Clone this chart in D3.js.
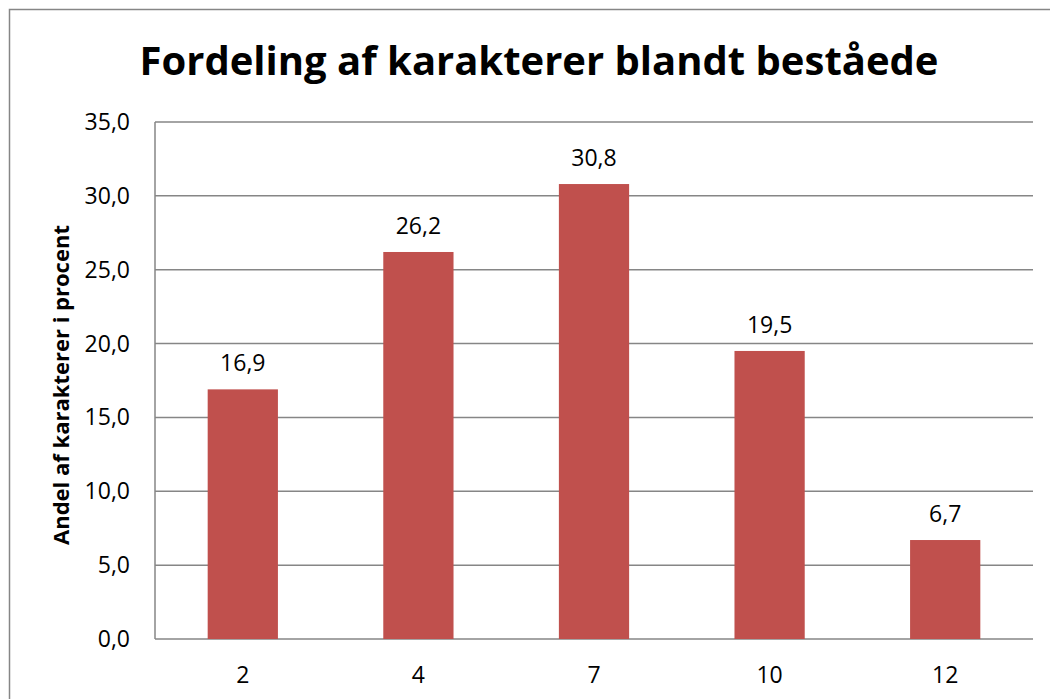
<!DOCTYPE html>
<html>
<head>
<meta charset="utf-8">
<script src="https://cdn.jsdelivr.net/npm/d3@7"></script>
<style>
    body { margin: 0; background: #fff; }
    text { font-family: "Open Sans", "Liberation Sans", sans-serif; fill: #000; }
</style>
</head>
<body>
<svg id="chart"></svg>
<script>
const categories = ["2", "4", "7", "10", "12"];
const values = [16.9, 26.2, 30.8, 19.5, 6.7];
const yTicks = [0, 5, 10, 15, 20, 25, 30, 35];
const title = "Fordeling af karakterer blandt beståede";
const yTitle = "Andel af karakterer i procent";

const width = 1050, height = 699;
const plot = { left: 155, top: 122, right: 1033, bottom: 639 };

const fmt = function(d) { return d.toFixed(1).replace(".", ","); };

const svg = d3.select("#chart").attr("width", width).attr("height", height);

// outer frame (runs off the right and bottom edge)
svg.append("rect")
    .attr("x", 9.5).attr("y", 9.5)
    .attr("width", 1100).attr("height", 750)
    .attr("fill", "none").attr("stroke", "#868686").attr("stroke-width", 1.5);

const x = d3.scaleBand().domain(categories).range([plot.left, plot.right]).padding(0);
const y = d3.scaleLinear().domain([0, 35]).range([plot.bottom, plot.top]);

// gridlines
svg.append("g").selectAll("line")
    .data(yTicks)
    .enter()
    .append("line")
    .attr("x1", plot.left).attr("x2", plot.right)
    .attr("y1", function(d) { return y(d); })
    .attr("y2", function(d) { return y(d); })
    .attr("stroke", "#868686").attr("stroke-width", 1.5);

// y axis line
svg.append("line")
    .attr("x1", plot.left).attr("x2", plot.left)
    .attr("y1", plot.top).attr("y2", plot.bottom)
    .attr("stroke", "#868686").attr("stroke-width", 1.5);

// y tick labels
svg.append("g").selectAll("text")
    .data(yTicks)
    .enter()
    .append("text")
    .attr("x", 130)
    .attr("y", function(d) { return y(d); })
    .attr("dy", "0.35em")
    .attr("text-anchor", "end")
    .style("font-size", "23px")
    .text(fmt);

// x tick labels
svg.append("g").selectAll("text")
    .data(categories)
    .enter()
    .append("text")
    .attr("x", function(d) { return x(d) + x.bandwidth() / 2; })
    .attr("y", 675)
    .attr("dy", "0.35em")
    .attr("text-anchor", "middle")
    .style("font-size", "23px")
    .text(function(d) { return d; });

// bars
const barW = x.bandwidth() * 0.4;
svg.append("g").selectAll("rect")
    .data(values)
    .enter()
    .append("rect")
    .attr("x", function(d, i) { return x(categories[i]) + (x.bandwidth() - barW) / 2; })
    .attr("y", function(d) { return y(d); })
    .attr("width", barW)
    .attr("height", function(d) { return y(0) - y(d); })
    .attr("fill", "#C0504D");

// data labels
svg.append("g").selectAll("text")
    .data(values)
    .enter()
    .append("text")
    .attr("x", function(d, i) { return x(categories[i]) + x.bandwidth() / 2; })
    .attr("y", function(d) { return y(d) - 26; })
    .attr("dy", "0.35em")
    .attr("text-anchor", "middle")
    .style("font-size", "23px")
    .text(fmt);

// title
svg.append("text")
    .attr("x", 539).attr("y", 75)
    .attr("text-anchor", "middle")
    .style("font-size", "40px").style("font-weight", "bold")
    .text(title);

// y axis title
svg.append("text")
    .attr("transform", "translate(61,385) rotate(-90)")
    .attr("dy", "0.35em")
    .attr("text-anchor", "middle")
    .style("font-size", "22px").style("font-weight", "bold")
    .text(yTitle);
</script>
</body>
</html>
